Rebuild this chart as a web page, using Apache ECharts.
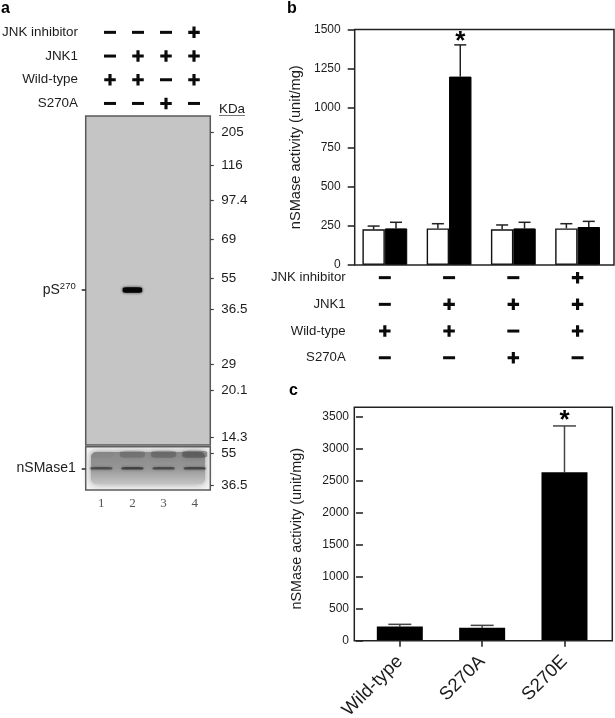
<!DOCTYPE html>
<html><head><meta charset="utf-8">
<style>html,body{margin:0;padding:0;background:#fff}#c{width:615px;height:718px}</style>
<script src="https://cdn.jsdelivr.net/npm/echarts@6/dist/echarts.min.js"></script>
</head><body><div id="c"></div>
<script>
const treatments = ['JNK inhibitor', 'JNK1', 'Wild-type', 'S270A'];
const lanes = ['1', '2', '3', '4'];
const presence = [
  [0, 0, 0, 1],
  [0, 1, 1, 1],
  [1, 1, 0, 1],
  [0, 0, 1, 0]
];
const kdaLabels = ['205', '116', '97.4', '69', '55', '36.5', '29', '20.1', '14.3'];
const kdaMigration = [16.7, 49, 84.3, 123.3, 162.3, 193.3, 248, 274.3, 321];
const pS270Migration = 174;
const pS270Lane = 1;
const lowerLabels = ['55', '36.5'];
const lowerMigration = [6.6, 38.3];
const nSMaseMigration = 21.6;
const nSMaseBandAlpha = [0.7, 0.85, 0.75, 0.8];
const topSmearAlpha = [0.05, 0.35, 0.45, 0.6];

const bValuesWhite = [227, 233, 227, 233];
const bErrorWhite = [248, 263, 255, 263];
const bValuesBlack = [233, 1200, 233, 242];
const bErrorBlack = [272, 1402, 272, 278];
const bStars = [false, true, false, false];

const cCategories = ['Wild-type', 'S270A', 'S270E'];
const cValues = [224, 203, 2634];
const cError = [256, 240, 3360];
const cStars = [false, false, true];

const FONT = '"Liberation Sans", Arial, sans-serif';
const INK = '#1c1c1c';

const PLUS = 'path://M4 0h3v4h4v3h-4v4h-3v-4h-4v-3h4z';
function matrixData() {
  const out = [];
  presence.forEach((row, r) => row.forEach((v, c) => {
    out.push(v ? { value: [c, r], symbol: PLUS, symbolSize: [11.5, 11.5] }
               : { value: [c, r], symbol: 'rect', symbolSize: [12, 3] });
  }));
  return out;
}
function errorSeries(name, xi, yi, dx, base, top, stars, cap, color, starSize, starGap) {
  return {
    name, type: 'custom', xAxisIndex: xi, yAxisIndex: yi, silent: true, z: 1,
    encode: { x: 0, y: [1, 2] },
    data: base.map((b, i) => [i, b, top[i], stars[i] ? 1 : 0]),
    renderItem(params, api) {
      const i = api.value(0);
      const p0 = api.coord([i, api.value(1)]);
      const p1 = api.coord([i, api.value(2)]);
      const x = p0[0] + dx;
      const style = { stroke: color, lineWidth: 1.5, fill: null };
      const children = [
        { type: 'line', shape: { x1: x, y1: p0[1], x2: x, y2: p1[1] }, style },
        { type: 'line', shape: { x1: x - cap / 2, y1: p1[1], x2: x + cap / 2, y2: p1[1] }, style }
      ];
      if (api.value(3)) {
        children.push({ type: 'text', style: { text: '*', x, y: p1[1] - starGap, align: 'center', verticalAlign: 'middle',
          font: 'bold ' + starSize + 'px ' + FONT, fill: '#000' } });
      }
      return { type: 'group', children };
    }
  };
}
const NB = { outerBoundsMode: 'none' };
const gridA = Object.assign({ left: 96, top: 20.5, width: 112, height: 94.8 }, NB);
const gridBlot = Object.assign({ left: 85.7, top: 116, width: 124.6, height: 329, show: true, backgroundColor: '#c5c5c5', borderColor: '#5a5a5a', borderWidth: 1.5 }, NB);
const gridLow = Object.assign({ left: 85.7, top: 446.7, width: 124.6, height: 43.3, show: true, backgroundColor: '#f6f6f6', borderColor: '#5a5a5a', borderWidth: 1.5 }, NB);
const gridB = Object.assign({ left: 352.7, top: 29.5, width: 257, height: 235.5 }, NB);
const gridBM = Object.assign({ left: 352.7, top: 264.3, width: 257, height: 106.8 }, NB);
const gridC = Object.assign({ left: 358.65, top: 417, width: 247, height: 223.7 }, NB);

const hiddenCat = (gridIndex, data, extra) => Object.assign({ type: 'category', gridIndex, data,
  axisLine: { show: false }, axisTick: { show: false }, axisLabel: { show: false }, splitLine: { show: false } }, extra || {});
const rowAxis = (gridIndex, size, margin) => ({ type: 'category', gridIndex, data: treatments, inverse: true,
  axisLine: { show: false }, axisTick: { show: false }, splitLine: { show: false },
  axisLabel: { fontFamily: FONT, fontSize: size, color: INK, margin, interval: 0 } });

const option = {
  animation: false,
  backgroundColor: '#fff',
  textStyle: { fontFamily: FONT },
  grid: [gridA, gridBlot, gridLow, gridB, gridBM, gridC],
  xAxis: [
    hiddenCat(0, lanes),
    hiddenCat(1, lanes),
    hiddenCat(2, lanes, { axisLabel: { show: true, interval: 0, fontFamily: '"Liberation Serif", serif', fontSize: 13, color: '#555', margin: 7 } }),
    hiddenCat(3, bValuesWhite.map((_, i) => String(i))),
    hiddenCat(4, bValuesWhite.map((_, i) => String(i))),
    { type: 'category', gridIndex: 5, data: cCategories,
      axisLine: { show: false }, axisTick: { show: true, alignWithLabel: true, length: 6, lineStyle: { color: INK, width: 1.5 } },
      axisLabel: { interval: 0, rotate: 45, fontFamily: FONT, fontSize: 18.5, color: INK, margin: 18 } }
  ],
  yAxis: [
    rowAxis(0, 13.4, 18),
    { type: 'value', gridIndex: 1, inverse: true, min: 0, max: 329, position: 'right', splitLine: { show: false },
      axisLine: { show: false }, axisTick: { show: true, length: 3.5, customValues: kdaMigration, lineStyle: { color: '#444', width: 1.2 } },
      axisLabel: { customValues: kdaMigration, margin: 11, fontFamily: FONT, fontSize: 13.4, color: INK, align: 'left',
        formatter: v => kdaLabels[kdaMigration.indexOf(v)] } },
    { type: 'value', gridIndex: 1, inverse: true, min: 0, max: 329, position: 'left', splitLine: { show: false },
      axisLine: { show: false }, axisTick: { show: true, length: 4, customValues: [pS270Migration], lineStyle: { color: '#222', width: 1.5 } },
      axisLabel: { customValues: [pS270Migration], margin: 10, fontFamily: FONT, fontSize: 14, color: INK,
        formatter: () => 'pS{sup|270}', rich: { sup: { fontSize: 9.5, padding: [0, 0, 7, 0], fontFamily: FONT, color: INK } } } },
    { type: 'value', gridIndex: 2, inverse: true, min: 0, max: 43.3, position: 'right', splitLine: { show: false },
      axisLine: { show: false }, axisTick: { show: true, length: 3.5, customValues: lowerMigration, lineStyle: { color: '#444', width: 1.2 } },
      axisLabel: { customValues: lowerMigration, margin: 11, fontFamily: FONT, fontSize: 13.4, color: INK, align: 'left',
        formatter: v => lowerLabels[lowerMigration.indexOf(v)] } },
    { type: 'value', gridIndex: 2, inverse: true, min: 0, max: 43.3, position: 'left', splitLine: { show: false },
      axisLine: { show: false }, axisTick: { show: true, length: 4, customValues: [nSMaseMigration], lineStyle: { color: '#222', width: 1.5 } },
      axisLabel: { customValues: [nSMaseMigration], margin: 10, fontFamily: FONT, fontSize: 14, color: INK, formatter: () => 'nSMase1' } },
    { type: 'value', gridIndex: 3, min: 0, max: 1500, interval: 250, offset: -2, splitLine: { show: false },
      axisLine: { show: false }, axisTick: { show: true, length: 7, lineStyle: { color: INK, width: 1.5 } },
      axisLabel: { margin: 14, fontFamily: FONT, fontSize: 12, color: INK, formatter: v => String(v) },
      name: 'nSMase activity (unit/mg)', nameLocation: 'middle', nameRotate: 90, nameGap: 51,
      nameTextStyle: { fontFamily: FONT, fontSize: 14.6, color: INK } },
    rowAxis(4, 13.2, 7),
    { type: 'value', gridIndex: 5, min: 0, max: 3500, interval: 500, offset: -4.35, splitLine: { show: false },
      axisLine: { show: false }, axisTick: { show: true, length: 7, lineStyle: { color: INK, width: 1.5 } },
      axisLabel: { margin: 14, fontFamily: FONT, fontSize: 12, color: INK, formatter: v => String(v) },
      name: 'nSMase activity (unit/mg)', nameLocation: 'middle', nameRotate: 90, nameGap: 59,
      nameTextStyle: { fontFamily: FONT, fontSize: 14.4, color: INK } }
  ],
  series: [
    { name: 'matrix a', type: 'scatter', xAxisIndex: 0, yAxisIndex: 0, silent: true, itemStyle: { color: '#0a0a0a', opacity: 1 }, data: matrixData() },
    { name: 'pS270 band', type: 'scatter', xAxisIndex: 1, yAxisIndex: 1, silent: true, symbol: 'roundRect', symbolSize: [19.5, 5.5],
      itemStyle: { color: '#050505', opacity: 1, shadowBlur: 3, shadowColor: 'rgba(0,0,0,.8)' }, data: [[pS270Lane, pS270Migration]] },
    { name: 'nSMase top smear', type: 'scatter', xAxisIndex: 2, yAxisIndex: 3, silent: true, symbol: 'roundRect', symbolSize: [25, 7], z: 3,
      data: topSmearAlpha.map((a, i) => ({ value: [i, 7.5], itemStyle: { color: 'rgba(60,60,60,' + a + ')', shadowBlur: 6, shadowColor: 'rgba(60,60,60,' + a + ')' } })) },
    { name: 'nSMase1 band', type: 'scatter', xAxisIndex: 2, yAxisIndex: 3, silent: true, symbol: 'roundRect', symbolSize: [22, 2.6], z: 4,
      data: nSMaseBandAlpha.map((a, i) => ({ value: [i, nSMaseMigration], itemStyle: { color: 'rgba(40,40,40,' + a + ')', shadowBlur: 3, shadowColor: 'rgba(40,40,40,.7)' } })) },

    { name: 'b white', type: 'bar', xAxisIndex: 3, yAxisIndex: 5, data: bValuesWhite, barWidth: 22.4, barGap: 0, z: 3,
      itemStyle: { color: '#fff', borderColor: '#111', borderWidth: 1.4 } },
    { name: 'b black', type: 'bar', xAxisIndex: 3, yAxisIndex: 5, data: bValuesBlack, barWidth: 22.4, barGap: 0, z: 3,
      itemStyle: { color: '#000', borderColor: '#000', borderWidth: 1 } },
    errorSeries('b white err', 3, 5, -11.2, bValuesWhite, bErrorWhite, [false, false, false, false], 12, '#222', 24, 8),
    errorSeries('b black err', 3, 5, 11.2, bValuesBlack, bErrorBlack, bStars, 12, '#222', 26, 3.5),
    { name: 'matrix b', type: 'scatter', xAxisIndex: 4, yAxisIndex: 6, silent: true, itemStyle: { color: '#0a0a0a', opacity: 1 }, data: matrixData() },

    { name: 'c', type: 'bar', xAxisIndex: 5, yAxisIndex: 7, data: cValues, barWidth: 46, z: 3, itemStyle: { color: '#000' } },
    errorSeries('c err', 5, 7, 0, cValues, cError, cStars, 23, '#444', 26, 5)
  ],
  graphic: [
    { type: 'rect', z: 1, silent: true, shape: { x: 91, y: 452, width: 114, height: 32, r: 5 },
      style: { fill: { type: 'linear', x: 0, y: 0, x2: 0, y2: 1, colorStops: [{ offset: 0, color: '#8a8a8a' }, { offset: .5, color: '#969696' }, { offset: 1, color: '#c4c4c4' }] }, shadowBlur: 8, shadowColor: '#999' } },
    { type: 'rect', z: 5, silent: true, shape: { x: 354.7, y: 29.5, width: 259.3, height: 235.5 }, style: { fill: null, stroke: '#222', lineWidth: 1.5 } },
    { type: 'rect', z: 5, silent: true, shape: { x: 354.3, y: 407.3, width: 258, height: 233.4 }, style: { fill: null, stroke: '#222', lineWidth: 1.5 } },
    { type: 'text', silent: true, style: { text: 'KDa', x: 219, y: 109, verticalAlign: 'middle', font: '13.4px ' + FONT, fill: INK } },
    { type: 'line', silent: true, shape: { x1: 219, y1: 115.5, x2: 245, y2: 115.5 }, style: { stroke: '#777', lineWidth: 1 } },
    { type: 'text', silent: true, style: { text: 'a', x: 1, y: 9, verticalAlign: 'middle', font: 'bold 16px ' + FONT, fill: '#000' } },
    { type: 'text', silent: true, style: { text: 'b', x: 287, y: 9, verticalAlign: 'middle', font: 'bold 16px ' + FONT, fill: '#000' } },
    { type: 'text', silent: true, style: { text: 'c', x: 289, y: 391, verticalAlign: 'middle', font: 'bold 16px ' + FONT, fill: '#000' } }
  ]
};
echarts.init(document.getElementById('c')).setOption(option);
</script></body></html>
